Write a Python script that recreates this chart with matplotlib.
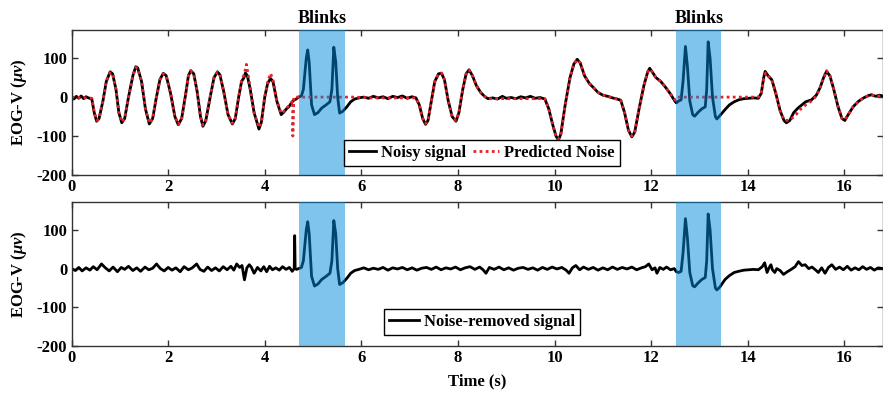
import numpy as np
import matplotlib
matplotlib.use("Agg")
import matplotlib.pyplot as plt

plt.rcParams['font.family'] = 'serif'
plt.rcParams['font.serif'] = ['Liberation Serif', 'DejaVu Serif']
plt.rcParams['font.weight'] = 'bold'
plt.rcParams['mathtext.fontset'] = 'custom'
plt.rcParams['mathtext.it'] = 'Liberation Serif:bold:italic'
plt.rcParams['mathtext.rm'] = 'Liberation Serif:bold'
plt.rcParams['axes.unicode_minus'] = False

# ---- noisy EOG (top, black) ----
noisy_t = [0.0, 0.05, 0.1, 0.15, 0.2, 0.25, 0.3, 0.35, 0.42, 0.47, 0.52, 0.57, 0.65, 0.72, 0.80, 0.85,
           0.92, 0.98, 1.04, 1.10, 1.18, 1.27, 1.33, 1.37, 1.45, 1.53, 1.61, 1.68, 1.75, 1.83, 1.90, 1.96,
           2.05, 2.14, 2.21, 2.28, 2.36, 2.42, 2.47, 2.53, 2.60, 2.67, 2.72, 2.78, 2.87, 2.95, 3.02, 3.07,
           3.15, 3.24, 3.33, 3.39, 3.46, 3.52, 3.57, 3.60, 3.64, 3.70, 3.78, 3.88, 3.93, 4.00, 4.06, 4.12,
           4.17, 4.25, 4.34, 4.40, 4.45, 4.50, 4.55, 4.60, 4.65, 4.70, 4.76, 4.80, 4.86, 4.89, 4.92, 4.97,
           5.03, 5.10, 5.18, 5.27, 5.35, 5.39, 5.43, 5.47, 5.51, 5.55, 5.62, 5.70, 5.78, 5.86, 5.95, 6.05,
           6.15, 6.25, 6.35, 6.45, 6.55, 6.65, 6.75, 6.85, 6.95, 7.05, 7.13, 7.20, 7.27, 7.33, 7.38, 7.45,
           7.52, 7.60, 7.66, 7.72, 7.80, 7.88, 7.96, 8.02, 8.10, 8.17, 8.23, 8.30, 8.38, 8.47, 8.55, 8.62,
           8.72, 8.82, 8.92, 9.00, 9.10, 9.20, 9.30, 9.40, 9.50, 9.60, 9.70, 9.80, 9.88, 9.96, 10.03, 10.08,
           10.13, 10.22, 10.32, 10.40, 10.47, 10.53, 10.62, 10.72, 10.80, 10.90, 11.00, 11.10, 11.20, 11.30,
           11.37, 11.45, 11.53, 11.60, 11.66, 11.75, 11.85, 11.93, 11.97, 12.02, 12.10, 12.20, 12.30, 12.40,
           12.48, 12.52, 12.57, 12.62, 12.66, 12.71, 12.75, 12.80, 12.86, 12.90, 12.98, 13.05, 13.12, 13.15,
           13.18, 13.22, 13.27, 13.33, 13.36, 13.42, 13.53, 13.62, 13.72, 13.81, 13.92, 14.02, 14.12, 14.22,
           14.28, 14.33, 14.36, 14.42, 14.50, 14.58, 14.67, 14.75, 14.80, 14.87, 14.95, 15.04, 15.12, 15.20,
           15.32, 15.42, 15.50, 15.57, 15.63, 15.70, 15.78, 15.87, 15.95, 16.01, 16.08, 16.18, 16.29, 16.40,
           16.50, 16.56, 16.65, 16.72, 16.80]
noisy_v = [0, -5, 2, -3, 3, -4, 1, -2, -5, -40, -62, -55, -10, 40, 65, 60,
           20, -40, -66, -55, 0, 55, 78, 75, 40, -30, -69, -55, -5, 45, 61, 55,
           10, -50, -71, -55, 5, 55, 68, 60, 15, -50, -75, -60, 0, 50, 65, 58,
           15, -45, -69, -55, 0, 40, 50, 62, 55, 20, -40, -82, -65, 0, 35, 48,
           40, -10, -45, -38, -30, -25, -15, -8, -5, 0, 3, 20, 100, 121, 90, -20,
           -45, -40, -28, -20, -12, 20, 128, 90, 0, -41, -36, -25, -12, -5, -2, 0,
           -3, 2, -2, 1, -4, 2, -1, 3, -3, 1, -2, -20, -55, -70, -60, -10,
           40, 60, 61, 45, -10, -50, -62, -40, 20, 60, 70, 55, 30, 12, 2, -4,
           -2, -5, 2, -3, -1, -4, 1, -2, 2, -3, -1, -5, -30, -70, -100, -110,
           -95, -20, 50, 85, 97, 88, 55, 35, 25, 12, 5, 2, -2, -5,
           -8, -40, -85, -102, -90, -30, 30, 65, 74, 65, 50, 40, 25, 8,
           -8, -15, -10, -7, 40, 130, 80, -10, -45, -49, -38, -30, -25, 20,
           142, 100, 0, -50, -56, -48, -32, -20, -12, -7, -4, -3, -2, -3,
           10, 50, 66, 55, 44, 10, -35, -60, -66, -60, -40, -28, -20, -12,
           -7, 5, 25, 50, 66, 55, 20, -25, -55, -60, -45, -25, -11, -2,
           4, 6, 2, 5, 3]

# ---- predicted noise (top, red dotted) ----
pred_t = [0.0, 0.42, 0.47, 0.52, 0.57, 0.65, 0.72, 0.80, 0.85, 0.92, 0.98, 1.04, 1.10, 1.18, 1.27, 1.33,
          1.37, 1.45, 1.53, 1.61, 1.68, 1.75, 1.83, 1.90, 1.96, 2.05, 2.14, 2.21, 2.28, 2.36, 2.42, 2.47,
          2.53, 2.60, 2.67, 2.72, 2.78, 2.87, 2.95, 3.02, 3.07, 3.15, 3.24, 3.33, 3.39, 3.46, 3.52, 3.58,
          3.62, 3.66, 3.70, 3.78, 3.88, 3.93, 4.00, 4.06, 4.12, 4.17, 4.25, 4.34, 4.40, 4.50, 4.58, 4.581,
          4.60, 5.85, 6.2, 7.13, 7.20, 7.27, 7.33, 7.38, 7.45, 7.52, 7.60, 7.66, 7.72, 7.80, 7.88, 7.96,
          8.02, 8.10, 8.17, 8.23, 8.30, 8.38, 8.47, 8.55, 8.62, 9.80, 9.88, 9.96, 10.03, 10.08, 10.13, 10.22,
          10.32, 10.40, 10.47, 10.53, 10.62, 10.72, 10.80, 10.90, 11.00, 11.10, 11.20, 11.37, 11.45, 11.53,
          11.60, 11.66, 11.75, 11.85, 11.93, 11.97, 12.02, 12.10, 12.20, 12.30, 12.40, 12.50, 12.55, 14.22,
          14.28, 14.33, 14.37, 14.42, 14.50, 14.58, 14.67, 14.75, 14.82, 14.90, 15.00, 15.10, 15.20, 15.32,
          15.42, 15.50, 15.57, 15.63, 15.70, 15.78, 15.87, 15.95, 16.01, 16.08, 16.18, 16.29, 16.40, 16.50,
          16.56, 16.65, 16.80]
pred_v = [0, -3, -38, -60, -55, -10, 42, 63, 60, 20, -40, -64, -55, 0, 55, 76,
          74, 40, -30, -67, -55, -5, 45, 60, 55, 10, -50, -70, -55, 5, 55, 67,
          60, 15, -50, -72, -60, 0, 50, 64, 58, 15, -45, -67, -55, 0, 42, 60,
          84, 55, 20, -40, -78, -65, 0, 38, 61, 45, -8, -42, -36, -22, -10, -100,
          0, 0, -2, -2, -20, -55, -68, -60, -10, 40, 60, 62, 45, -10, -50, -60,
          -40, 20, 60, 70, 55, 30, 12, 2, -4, -4, -30, -70, -100, -108, -95, -20,
          50, 85, 96, 88, 55, 35, 25, 12, 5, 2, -2, -8, -40, -85,
          -100, -90, -30, 30, 65, 72, 65, 50, 40, 25, 8, -8, 0, 0,
          10, 45, 62, 55, 44, 10, -35, -58, -60, -56, -45, -30, -20, -10,
          3, 25, 50, 68, 55, 20, -25, -55, -58, -45, -25, -11, -2, 4,
          6, 3, 3]

# ---- noise-removed signal (bottom, black) ----
clean_t = [0.0, 0.08, 0.15, 0.22, 0.3, 0.38, 0.45, 0.53, 0.62, 0.70, 0.78, 0.86, 0.95, 1.03, 1.10, 1.18,
           1.27, 1.35, 1.43, 1.52, 1.60, 1.68, 1.76, 1.84, 1.92, 2.00, 2.08, 2.16, 2.25, 2.33, 2.42, 2.50,
           2.59, 2.66, 2.74, 2.82, 2.90, 2.98, 3.06, 3.14, 3.22, 3.30, 3.36, 3.42, 3.48, 3.53, 3.58, 3.63,
           3.68, 3.72, 3.78, 3.85, 3.92, 3.98, 4.04, 4.10, 4.16, 4.23, 4.30, 4.37, 4.44, 4.51, 4.57, 4.61,
           4.62, 4.63, 4.66, 4.70, 4.76, 4.80, 4.86, 4.89, 4.92, 4.97, 5.03, 5.10, 5.18, 5.27, 5.35, 5.39,
           5.43, 5.47, 5.51, 5.55, 5.62, 5.70, 5.78, 5.86, 5.95, 6.05, 6.15, 6.25, 6.35, 6.45, 6.55, 6.65,
           6.75, 6.85, 6.95, 7.05, 7.15, 7.25, 7.35, 7.45, 7.55, 7.65, 7.75, 7.85, 7.95, 8.05, 8.15, 8.25,
           8.35, 8.45, 8.52, 8.58, 8.65, 8.75, 8.85, 8.95, 9.05, 9.15, 9.25, 9.35, 9.45, 9.55, 9.65, 9.75,
           9.85, 9.95, 10.05, 10.15, 10.24, 10.30, 10.37, 10.44, 10.52, 10.60, 10.70, 10.80, 10.90, 11.00,
           11.10, 11.20, 11.30, 11.40, 11.50, 11.60, 11.70, 11.80, 11.88, 11.95, 12.02, 12.08, 12.12, 12.18,
           12.25, 12.32, 12.40, 12.48, 12.52, 12.57, 12.62, 12.66, 12.71, 12.75, 12.80, 12.86, 12.90, 12.98,
           13.05, 13.12, 13.15, 13.18, 13.22, 13.27, 13.33, 13.36, 13.42, 13.53, 13.62, 13.72, 13.81, 13.92,
           14.02, 14.12, 14.22, 14.30, 14.35, 14.40, 14.44, 14.48, 14.51, 14.56, 14.60, 14.67, 14.74, 14.82,
           14.90, 14.98, 15.05, 15.12, 15.19, 15.26, 15.33, 15.40, 15.46, 15.53, 15.60, 15.67, 15.74, 15.82,
           15.90, 15.98, 16.06, 16.14, 16.22, 16.30, 16.38, 16.46, 16.54, 16.62, 16.70, 16.80]
clean_v = [0, -5, 3, -6, 2, -4, 5, -3, 12, 2, -6, 4, -8, 3, -2, 6,
           -5, 2, -7, 4, -3, 1, 12, 0, -6, 3, -4, 2, -8, 5, -3, 2,
           12, -2, -7, 4, -5, 2, -6, 5, -3, 6, -4, 12, 3, 8, -29, 2,
           10, 4, -12, 3, -6, 5, -8, 6, -3, 2, -4, 5, -2, 3, -7, 0,
           85, 0, -2, 0, 3, 20, 100, 121, 90, -20, -45, -40, -28, -20, -12, 20,
           124, 90, 0, -41, -36, -25, -12, -5, -2, 2, -3, 1, -2, 3, -4, 2,
           -1, 3, -3, 2, -4, 1, 3, -2, 4, -3, 2, -1, 4, -3, 2, 5,
           -2, 4, -3, -12, 3, -2, 4, -3, 2, -4, 1, 3, -2, 2, -4, 3,
           -2, 4, -1, 3, -4, -12, 2, 8, -3, 4, -2, 3, -4, 2,
           -3, 4, -2, 3, -1, 4, -3, 2, 5, 12, -3, 2, -12, 3,
           -2, 4, -3, 0, -8, -10, -7, 40, 129, 80, -10, -44, -47, -36,
           -28, -23, 20, 141, 100, 0, -50, -55, -48, -28, -18, -10, -7, -4,
           -3, -2, -3, 5, 15, -10, 2, 10, -3, -10, 0, -5, -15, -8,
           -2, 5, 18, 8, 10, 0, 4, -3, -10, 2, -12, 3, 10, -2,
           4, -3, 6, -4, 2, -3, 5, -2, 3, -4, 2, 0]

blink_spans = [(4.70, 5.67), (12.52, 13.45)]
blink_label = 'Blinks'
x_ticks = [0, 2, 4, 6, 8, 10, 12, 14, 16]
y_ticks = [-200, -100, 0, 100]

fig = plt.figure(figsize=(8.83, 3.96), dpi=100)
ax1 = fig.add_axes([0.081, 0.558, 0.919, 0.366])
ax2 = fig.add_axes([0.081, 0.126, 0.919, 0.364])

ax1.plot(noisy_t, noisy_v, color='black', lw=2.0, label='Noisy signal', zorder=2)
ax1.plot(pred_t, pred_v, color='#e8202a', lw=2.0, ls=(0, (1, 1.2)), label='Predicted Noise', zorder=2.5)
ax2.plot(clean_t, clean_v, color='black', lw=2.0, label='Noise-removed signal', zorder=2)

for ax in (ax1, ax2):
    for a, b in blink_spans:
        ax.axvspan(a, b, color='#008ada', alpha=0.5, lw=0, zorder=3)
    ax.set_xlim(0, 16.8)
    ax.set_ylim(-200, 172)
    ax.set_xticks(x_ticks)
    ax.set_yticks(y_ticks)
    ax.tick_params(direction='in', length=4, width=1, top=True, right=True,
                   labelsize=12, color='#333333', pad=3)
    for lab in ax.get_xticklabels() + ax.get_yticklabels():
        lab.set_fontweight('bold')
    for s in ax.spines.values():
        s.set_color('#333333')
        s.set_linewidth(1)
    ax.set_ylabel(r'EOG-V ($\mu v$)', fontsize=12, fontweight='bold', labelpad=6)

ax2.set_xlabel('Time (s)', fontsize=12, fontweight='bold', labelpad=5)

leg1 = ax1.legend(loc='lower center', bbox_to_anchor=(0.506, 0.008), ncol=2, fancybox=False,
                  edgecolor='black', framealpha=1, handlelength=1.6, handletextpad=0.3,
                  columnspacing=0.4, borderpad=0.3, prop={'weight': 'bold', 'size': 12})
leg1.get_frame().set_linewidth(1)
leg1.set_zorder(5)
leg2 = ax2.legend(loc='lower center', bbox_to_anchor=(0.506, 0.022), fancybox=False,
                  edgecolor='black', framealpha=1, handlelength=1.8, handletextpad=0.3,
                  borderpad=0.3, prop={'weight': 'bold', 'size': 12})
leg2.get_frame().set_linewidth(1)
leg2.set_zorder(5)

for a, b in blink_spans:
    ax1.text((a + b) / 2, 1.02, blink_label, transform=ax1.get_xaxis_transform(),
             ha='center', va='bottom', fontsize=13, fontweight='bold')

fig.savefig('out.png', dpi=100)
